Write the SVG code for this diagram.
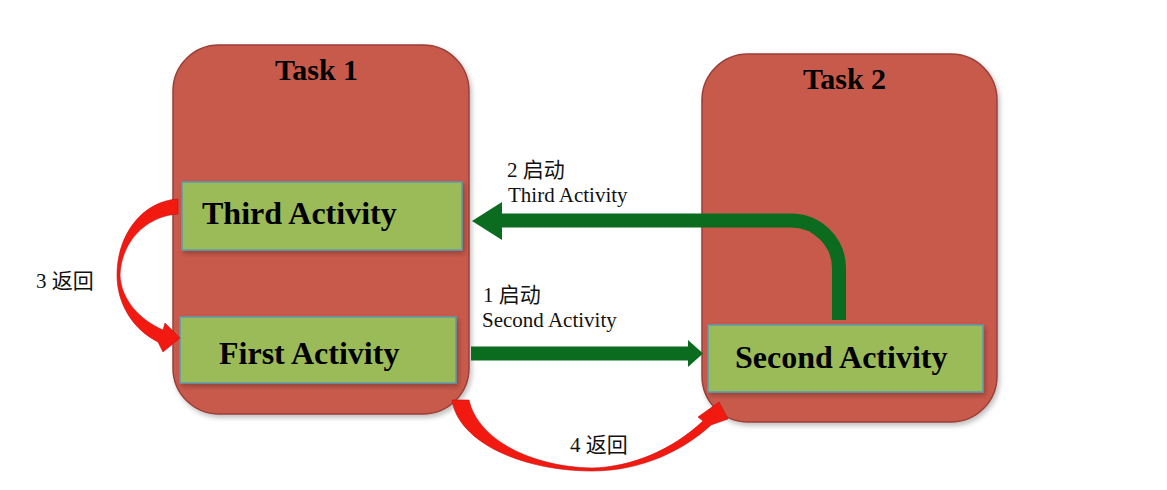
<svg xmlns="http://www.w3.org/2000/svg" width="1167" height="490" viewBox="0 0 1167 490">
  <style>
    .task { fill: #C85A4C; stroke: #9A3F38; stroke-width: 1.5; }
    .act { fill: #9BBB59; stroke: #5B9BB0; stroke-width: 1.5; }
    .title { font-family: "Liberation Serif", "Times New Roman", serif; font-weight: bold; font-size: 30px; fill: #000; }
    .actlabel { font-family: "Liberation Serif", "Times New Roman", serif; font-weight: bold; font-size: 32px; fill: #000; }
    .lbl { font-family: "Liberation Serif", "Noto Sans CJK SC", serif; font-size: 21px; fill: #111; }
    .green { fill: none; stroke: #0B6B1F; stroke-width: 14; }
    .greenhead { fill: #0B6B1F; }
    .red { fill: #F21A10; stroke: #C01010; stroke-width: 0.6; }
  </style>
  <defs>
    <filter id="sh" x="-10%" y="-10%" width="120%" height="120%">
      <feDropShadow dx="2" dy="3" stdDeviation="2.5" flood-color="#000" flood-opacity="0.25"/>
    </filter>
  </defs>
  <rect width="1167" height="490" fill="#FFFFFF"/>

  <g id="task1">
    <rect class="task" x="173" y="45" width="296" height="369" rx="46" ry="46" filter="url(#sh)"/>
    <text class="title" x="275" y="80">Task 1</text>
  </g>
  <g id="task2">
    <rect class="task" x="702" y="54" width="295" height="368" rx="46" ry="46" filter="url(#sh)"/>
    <text class="title" x="803" y="89">Task 2</text>
  </g>

  <g id="third-activity">
    <rect class="act" x="182" y="182" width="280" height="68" filter="url(#sh)"/>
    <text class="actlabel" x="202" y="224">Third Activity</text>
  </g>
  <g id="first-activity">
    <rect class="act" x="180" y="317" width="276" height="66" filter="url(#sh)"/>
    <text class="actlabel" x="219" y="364">First Activity</text>
  </g>
  <g id="second-activity">
    <rect class="act" x="708" y="325" width="275" height="67" filter="url(#sh)"/>
    <text class="actlabel" x="735" y="368">Second Activity</text>
  </g>

  <g id="connectors">
    <!-- 1: First -> Second -->
    <line class="green" x1="471" y1="353.5" x2="690" y2="353.5"/>
    <polygon class="greenhead" points="688,340 703,353.5 688,367"/>
    <!-- 2: Second -> Third -->
    <path class="green" d="M 839 320 L 839 268.5 A 48 48 0 0 0 791 220.5 L 500 220.5"/>
    <polygon class="greenhead" points="502,202 472,221 502,240"/>
    <!-- 3: Third -> First (return) -->
    <path class="red" d="M 178 199 C 142 201 117 235 117 275 C 117 305 134 330 158 342 L 163 352 L 180 338 L 165 323 L 163 330 C 140 320 121 300 120 275 C 121 243 145 216 178 214 Z"/>
    <!-- 4: Second -> First (return) -->
    <path class="red" d="M 452 400 C 458 442 522 471 592 471 C 642 471 684 450 711 425 L 728 419 L 719 402 L 698 417 L 703 421 C 672 450 632 467 592 468 C 532 467 478 440 469 400 Z"/>
  </g>

  <g id="labels">
    <text class="lbl" x="507" y="177">2 启动</text>
    <text class="lbl" x="508" y="202">Third Activity</text>
    <text class="lbl" x="483" y="302">1 启动</text>
    <text class="lbl" x="482" y="327">Second Activity</text>
    <text class="lbl" x="36" y="288">3 返回</text>
    <text class="lbl" x="570" y="452">4 返回</text>
  </g>
</svg>
